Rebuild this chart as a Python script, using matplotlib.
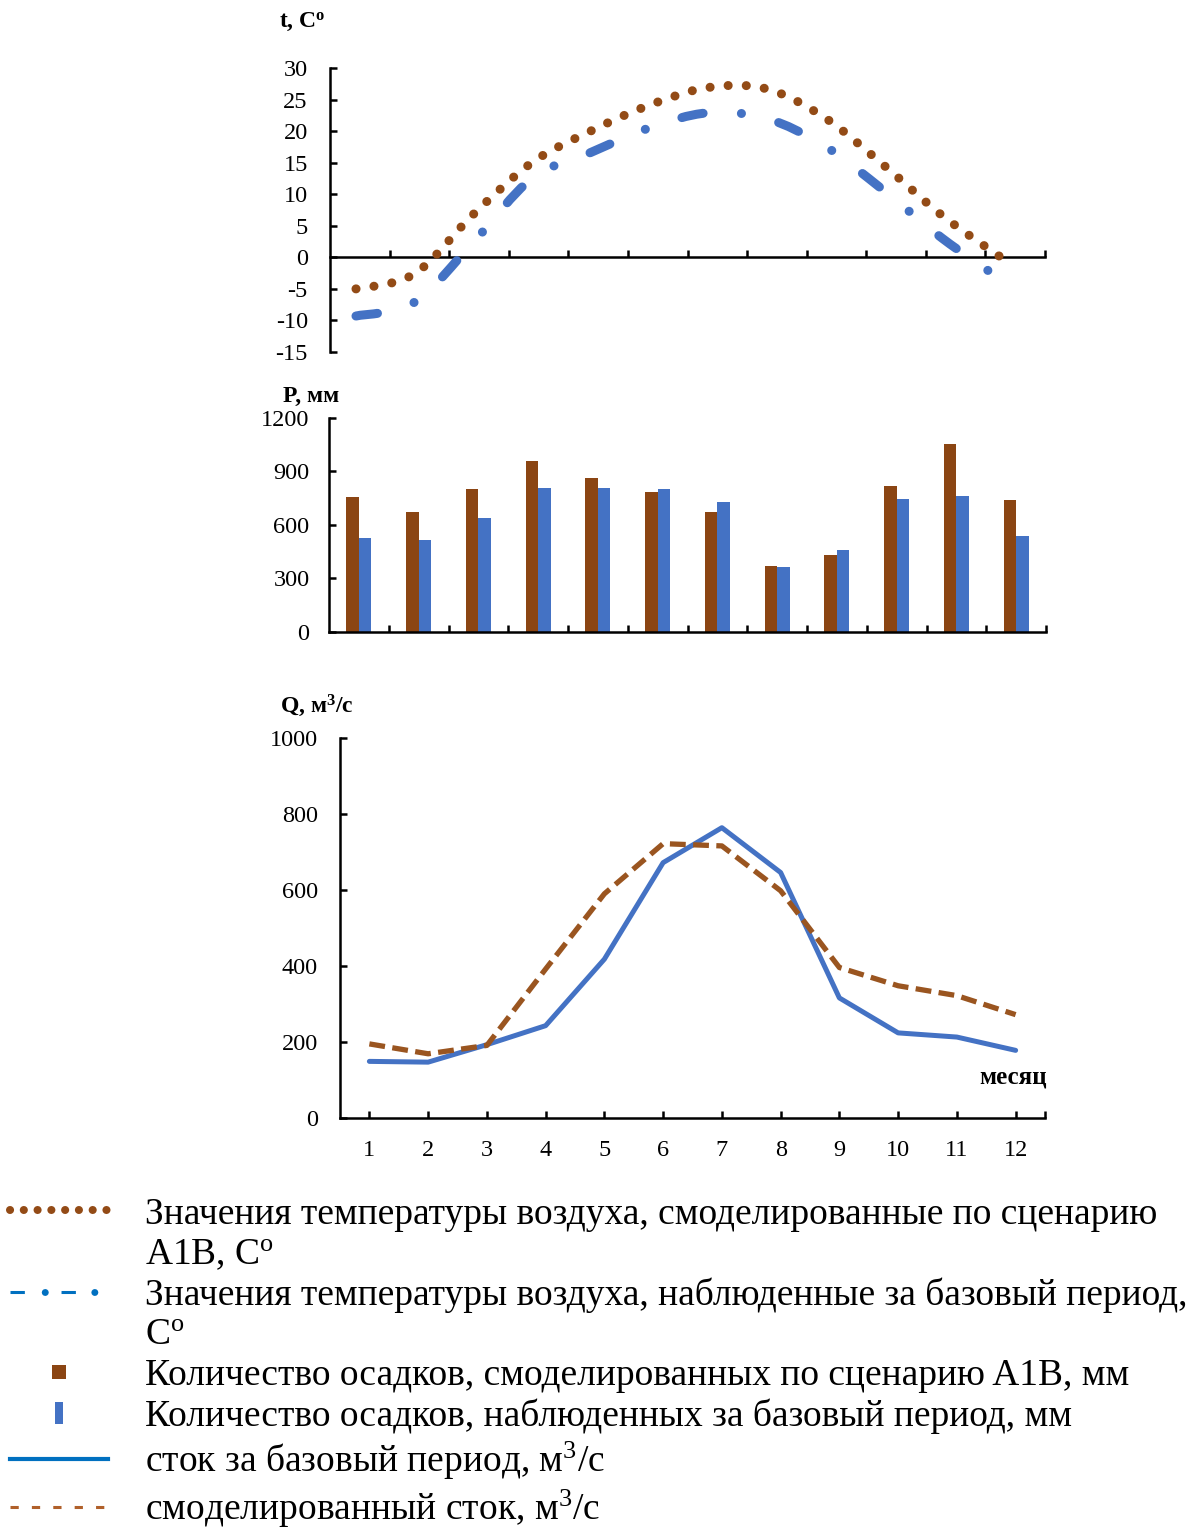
import numpy as np
import matplotlib
matplotlib.use("Agg")
import matplotlib.pyplot as plt
from matplotlib.path import Path
from matplotlib.patches import PathPatch
from matplotlib.lines import Line2D
from matplotlib.legend_handler import HandlerTuple

# ---- data -------------------------------------------------------------
months = list(range(1, 13))

# air temperature, C
temp_a1b = [-5.0, -2.6, 6.8, 15.0, 20.0, 24.1, 26.9, 26.7, 22.1, 14.6, 6.6, 0.0]
temp_base = [-9.3, -7.1, 2.4, 12.5, 16.6, 20.5, 22.9, 22.0, 17.6, 10.6, 3.0, -3.5]

# precipitation, mm
precip_a1b = [758, 673, 803, 960, 865, 787, 674, 371, 432, 820, 1056, 741]
precip_base = [528, 517, 640, 809, 809, 803, 730, 365, 461, 747, 764, 539]

# river flow, m3/s
flow_base = [149, 147, 193, 243, 418, 672, 764, 646, 316, 224, 213, 178]
flow_a1b = [195, 169, 191, 392, 590, 722, 716, 598, 396, 348, 322, 272]

t_ticks = [-15, -10, -5, 0, 5, 10, 15, 20, 25, 30]
p_ticks = [0, 300, 600, 900, 1200]
q_ticks = [0, 200, 400, 600, 800, 1000]
month_labels = [str(m) for m in months]

legend_labels = [
    "Значения температуры воздуха, смоделированные по сценарию",
    r"A1B, C$^{\mathrm{o}}$",
    "Значения температуры воздуха, наблюденные за базовый период,",
    r"C$^{\mathrm{o}}$",
    "Количество осадков, смоделированных по сценарию A1B, мм",
    "Количество осадков, наблюденных за базовый период, мм",
    r"сток за базовый период, м$^{3}$/с",
    r"смоделированный сток, м$^{3}$/с",
]

# ---- style ------------------------------------------------------------
plt.rcParams["font.family"] = ["Liberation Serif", "DejaVu Serif"]
plt.rcParams["mathtext.fontset"] = "custom"
plt.rcParams["mathtext.rm"] = "Liberation Serif"
plt.rcParams["mathtext.it"] = "Liberation Serif:italic"
plt.rcParams["mathtext.bf"] = "Liberation Serif:bold"
plt.rcParams["axes.unicode_minus"] = False

BROWN_BAR = "#8B4513"
BROWN_LINE = "#934B16"
BROWN_DASH = "#9A5520"
BLUE = "#4472C4"
BLUE_LEG = "#0070C0"
TICK_FS = 17.5

W, H = 1195, 1530
fig = plt.figure(figsize=(W / 100, H / 100), dpi=100)


def px_axes(left, top, right, bottom):
    return fig.add_axes([left / W, 1 - bottom / H, (right - left) / W, (bottom - top) / H])


def style_axes(ax, ypad):
    for s in ("top", "right"):
        ax.spines[s].set_visible(False)
    for s in ("left", "bottom"):
        ax.spines[s].set_linewidth(1.8)
    ax.tick_params(which="both", direction="in", length=5, width=1.8,
                   labelsize=TICK_FS, colors="black")
    ax.tick_params(axis="y", pad=ypad)


def smooth_path(x, y):
    """Cubic Bezier path through the points (Catmull-Rom tangents)."""
    pts = np.column_stack([x, y]).astype(float)
    ext = np.vstack([pts[0], pts, pts[-1]])
    verts = [pts[0]]
    codes = [Path.MOVETO]
    for i in range(len(pts) - 1):
        p0, p1, p2, p3 = ext[i], ext[i + 1], ext[i + 2], ext[i + 3]
        verts += [p1 + (p2 - p0) / 6.0, p2 - (p3 - p1) / 6.0, p2]
        codes += [Path.CURVE4] * 3
    return Path(verts, codes)


# ---- temperature panel ------------------------------------------------
ax1 = px_axes(330, 68, 1045, 352)
t_lo, t_hi = 0.557, 12.75
ax1.set_xlim(t_lo, t_hi)
ax1.set_ylim(-15, 30)
style_axes(ax1, 16)
ax1.spines["bottom"].set_position(("data", 0))
ax1.set_yticks(t_ticks)
ax1.set_yticklabels([str(v) for v in t_ticks])
ax1.set_xticks(np.linspace(t_lo, t_hi, 13)[1:])
ax1.tick_params(axis="x", labelbottom=False)

ax1.add_patch(PathPatch(smooth_path(months, temp_base), fill=False,
                        edgecolor=BLUE, linewidth=6.5,
                        linestyle=(0, (2.4, 4.25, 0.01, 4.25)),
                        capstyle="round", joinstyle="round", zorder=3))
ax1.add_patch(PathPatch(smooth_path(months, temp_a1b), fill=False,
                        edgecolor=BROWN_LINE, linewidth=6.5,
                        linestyle=(0, (0.01, 2.0)),
                        capstyle="round", joinstyle="round", zorder=4))

# ---- precipitation panel ----------------------------------------------
ax2 = px_axes(329, 418, 1046, 632)
ax2.set_xlim(0.5, 12.5)
ax2.set_ylim(0, 1200)
style_axes(ax2, 14)
ax2.set_yticks(p_ticks)
ax2.set_yticklabels([str(v) for v in p_ticks])
ax2.set_xticks(np.arange(1.5, 13, 1.0))
ax2.tick_params(axis="x", labelbottom=False)
bw = 0.21
xm = np.array(months, dtype=float)
ax2.bar(xm - bw / 2, precip_a1b, width=bw, color=BROWN_BAR, zorder=2)
ax2.bar(xm + bw / 2, precip_base, width=bw, color=BLUE, zorder=2)

# ---- flow panel -------------------------------------------------------
ax3 = px_axes(340, 738, 1045, 1118)
ax3.set_xlim(0.5, 12.5)
ax3.set_ylim(0, 1000)
style_axes(ax3, 16)
ax3.set_yticks(q_ticks)
ax3.set_yticklabels([str(v) for v in q_ticks])
ax3.set_xticks(months)
ax3.set_xticklabels(month_labels)
ax3.set_xticks([12.5], minor=True)
ax3.tick_params(axis="x", pad=16)
ax3.plot(months, flow_base, color=BLUE, lw=3.6, solid_joinstyle="round",
         solid_capstyle="round", zorder=3)
ax3.plot(months, flow_a1b, color=BROWN_DASH, lw=3.8,
         linestyle=(0, (3.0, 1.4)), zorder=4)
ax3.text(1.002, 0.108, "месяц", transform=ax3.transAxes, ha="right",
         va="center", fontsize=18, fontweight="bold")

# ---- axis titles ------------------------------------------------------
fig.text(279 / W, 1 - 22 / H, r"t, C$^{\mathbf{o}}$", fontsize=17,
         fontweight="bold", ha="left", va="center")
fig.text(283 / W, 1 - 396 / H, "P, мм", fontsize=17,
         fontweight="bold", ha="left", va="center")
fig.text(280 / W, 1 - 706 / H, r"Q, м$^{\mathbf{3}}$/с", fontsize=17,
         fontweight="bold", ha="left", va="center")

# ---- legend -----------------------------------------------------------
rect = Path([(-0.2, -0.5), (0.2, -0.5), (0.2, 0.5), (-0.2, 0.5), (-0.2, -0.5)],
            [Path.MOVETO, Path.LINETO, Path.LINETO, Path.LINETO, Path.CLOSEPOLY])
blank = Line2D([], [], linestyle="none")
h_dots = Line2D([], [], color=BROWN_LINE, lw=5.8, linestyle=(0, (0.01, 1.7)),
                dash_capstyle="round")
h_dash = Line2D([], [], color=BLUE_LEG, lw=2.2, linestyle=(0, (4.7, 12.0)))
h_dot = Line2D([], [], color=BLUE_LEG, lw=5.0, linestyle=(2.14, (0.01, 7.13)),
               dash_capstyle="round")
h_pa = Line2D([], [], linestyle="none", marker="s", markersize=9.5,
              color=BROWN_BAR, markeredgewidth=0)
h_pb = Line2D([], [], linestyle="none", marker=rect, markersize=16,
              color=BLUE, markeredgewidth=0)
h_qb = Line2D([], [], color=BLUE_LEG, lw=3.0)
h_qa = Line2D([], [], color="#B0602A", lw=2.2, linestyle=(0, (2.7, 4.3)))

handles = [h_dots, blank, (h_dash, h_dot), blank, h_pa, h_pb, h_qb, h_qa]
fig.legend(handles, legend_labels, loc="upper left",
           bbox_to_anchor=(10 / W, 1 - 1197 / H), frameon=False,
           fontsize=27, handlelength=2.6, handletextpad=1.0,
           labelspacing=0.15, borderpad=0, borderaxespad=0,
           handler_map={tuple: HandlerTuple(ndivide=1, pad=0)})

fig.savefig("out.png", dpi=100)
